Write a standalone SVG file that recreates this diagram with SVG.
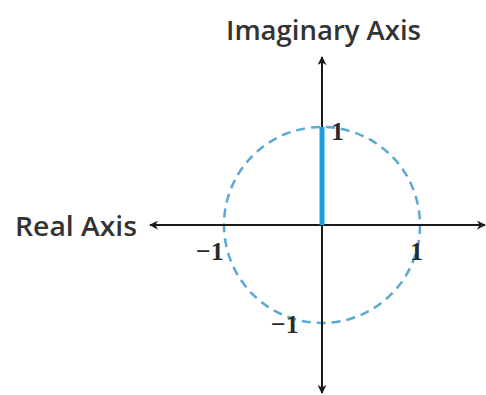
<svg xmlns="http://www.w3.org/2000/svg" width="486" height="395" viewBox="0 0 486 395">
<defs>
<style>
.lbl{font-family:"Open Sans","Noto Sans",sans-serif;font-weight:600;fill:#333;font-size:27px}
.num{font-family:"Liberation Serif",serif;font-weight:bold;fill:#2a2a2a;font-size:26px}
.axis{stroke:#1a1a1a;stroke-width:2;fill:none}
</style>
<marker id="ah" viewBox="0 0 10 10" refX="9" refY="5" markerWidth="9" markerHeight="9" markerUnits="userSpaceOnUse" orient="auto">
<path d="M0,0 L10,5 L0,10 L3,5 Z" fill="#1a1a1a"/>
</marker>
</defs>
<rect width="486" height="395" fill="#fff"/>
<g id="circle">
<circle cx="322" cy="225" r="98" fill="none" stroke="#5aa9d2" stroke-width="2.5" stroke-dasharray="9 6"/>
</g>
<g id="connectors">
<line class="axis" x1="322" y1="225" x2="322" y2="57" marker-end="url(#ah)"/>
<line class="axis" x1="322" y1="225" x2="322" y2="393" marker-end="url(#ah)"/>
<line class="axis" x1="322" y1="225" x2="150" y2="225" marker-end="url(#ah)"/>
<line class="axis" x1="322" y1="225" x2="485" y2="225" marker-end="url(#ah)"/>
</g>
<g id="segment">
<line x1="322" y1="127" x2="322" y2="225" stroke="#1a9ee0" stroke-width="5"/>
</g>
<g id="labels">
<text class="lbl" x="226" y="40" textLength="195" lengthAdjust="spacingAndGlyphs">Imaginary Axis</text>
<text class="lbl" x="15" y="236" textLength="122" lengthAdjust="spacingAndGlyphs">Real Axis</text>
<text class="num" x="331" y="140">1</text>
<text class="num" x="196" y="260">−1</text>
<text class="num" x="410" y="260">1</text>
<text class="num" x="271" y="333">−1</text>
</g>
</svg>
